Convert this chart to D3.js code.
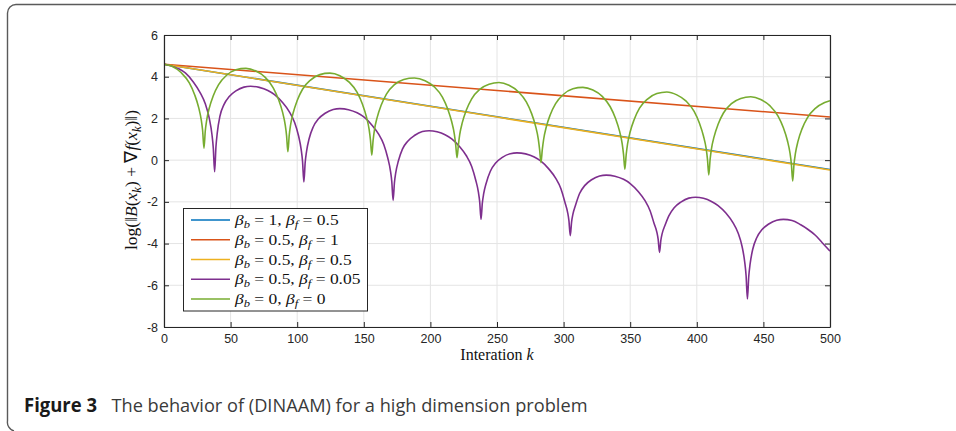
<!DOCTYPE html>
<html>
<head>
<meta charset="utf-8">
<script src="https://cdn.jsdelivr.net/npm/d3@7"></script>
<style>
  html, body { margin: 0; padding: 0; background: #fff; }
  svg { display: block; }
</style>
</head>
<body>
<svg id="chart" width="956" height="431"></svg>
<script>
// ---------------- data ----------------
const xTicks = [0, 50, 100, 150, 200, 250, 300, 350, 400, 450, 500];
const yTicks = [-8, -6, -4, -2, 0, 2, 4, 6];
const betaB = ["1", "0.5", "0.5", "0.5", "0"];
const betaF = ["0.5", "1", "0.5", "0.05", "0"];

// beta_b = 1, beta_f = 0.5
const blueVals = [[0, 4.6], [250, 2.08], [500, -0.45]];
// beta_b = 0.5, beta_f = 1
const redVals = [[0, 4.6], [250, 3.34], [500, 2.07]];
// beta_b = 0.5, beta_f = 0.5
const yellowVals = [[0, 4.6], [250, 2.065], [500, -0.47]];
// beta_b = 0.5, beta_f = 0.05
const purpleVals = [
  [0,4.60],[11,4.38],[16,4.18],[22,3.75],[27,3.25],[31,2.70],[34,2.00],[36,1.23],[37,0.59],[38,-0.56],
  [39,0.64],[40,1.31],[42,2.11],[45,2.66],[49,3.05],[54,3.32],[60,3.50],[65,3.54],[71.5,3.49],[78,3.34],[83,3.14],[89,2.76],[94,2.33],[98,1.82],[101,1.17],[103,0.50],[104,-0.05],[105,-1.05],
  [106,-0.11],[107,0.41],[109,1.04],[112,1.59],[116,1.98],[121,2.25],[127,2.43],[132,2.47],[138.5,2.42],[145,2.27],[150,2.07],[156,1.69],[161,1.26],[165,0.75],[168,0.10],[170,-0.51],[171,-1.02],[172,-1.93],
  [173,-1.08],[174,-0.60],[176,-0.03],[179,0.53],[183,0.91],[188,1.18],[194,1.37],[199,1.41],[205,1.36],[211,1.22],[216,1.02],[222,0.64],[227,0.21],[231,-0.30],[234,-0.95],[236,-1.52],[237,-1.99],[238,-2.84],
  [239,-2.05],[240,-1.61],[242,-1.08],[245,-0.53],[249,-0.14],[254,0.13],[260,0.31],[265,0.35],[271.5,0.30],[278,0.15],[283,-0.05],[289,-0.43],[294,-0.86],[298,-1.37],[301,-2.02],[303,-2.50],[304,-2.90],[305,-3.62],
  [306,-2.96],[307,-2.59],[309,-2.15],[312,-1.60],[316,-1.21],[321,-0.94],[327,-0.76],[332,-0.72],[338.5,-0.77],[345,-0.92],[350,-1.12],[356,-1.50],[361,-1.93],[365,-2.44],[368,-3.05],[370,-3.45],[371,-3.80],[372,-4.42],
  [373,-3.85],[374,-3.52],[376,-3.15],[379,-2.67],[383,-2.28],[388,-2.01],[394,-1.82],[399,-1.78],[405,-1.83],[411,-1.98],[416,-2.18],[422,-2.55],[427,-2.98],[431,-3.49],[434,-4.14],[436,-4.90],[437,-5.53],[438,-6.66],
  [439,-5.58],[440,-4.99],[442,-4.27],[445,-3.72],[449,-3.33],[454,-3.06],[460,-2.88],[465,-2.84],[471.5,-2.89],[478,-3.10],[483,-3.30],[489,-3.60],[494,-3.95],[500,-4.36]
];
// beta_b = 0, beta_f = 0
const greenVals = [
  [0,4.60],[6,4.50],[13,4.19],[19,3.70],[23,3.14],[26,2.53],[28,1.92],[29,1.42],[30,0.57],
  [31,1.41],[32,1.90],[34,2.50],[37,3.09],[41,3.62],[47,4.07],[54,4.33],[61.5,4.40],[69,4.27],[76,3.97],[82,3.47],[86,2.91],[89,2.30],[91,1.69],[92,1.19],[93,0.40],
  [94,1.18],[95,1.68],[97,2.27],[100,2.86],[104,3.40],[110,3.84],[117,4.10],[124.5,4.17],[132,4.05],[139,3.74],[145,3.25],[149,2.68],[152,2.07],[154,1.47],[155,0.96],[156,0.24],
  [157,0.96],[158,1.45],[160,2.04],[163,2.63],[167,3.17],[173,3.62],[180,3.87],[188,3.94],[196,3.81],[203,3.51],[209,3.02],[213,2.45],[216,1.84],[218,1.24],[219,0.73],[220,0.12],
  [221,0.72],[222,1.22],[224,1.81],[227,2.40],[231,2.94],[237,3.39],[244,3.64],[251.5,3.72],[259,3.59],[266,3.28],[272,2.79],[276,2.23],[279,1.62],[281,1.01],[282,0.50],[283,-0.12],
  [284,0.50],[285,0.99],[287,1.59],[290,2.18],[294,2.71],[300,3.16],[307,3.42],[314.5,3.49],[322,3.36],[329,3.06],[335,2.56],[339,2.00],[342,1.39],[344,0.78],[345,0.28],[346,-0.43],
  [347,0.27],[348,0.77],[350,1.36],[353,1.95],[357,2.49],[363,2.93],[370,3.19],[377.5,3.27],[385,3.13],[392,2.83],[398,2.34],[402,1.77],[405,1.16],[407,0.56],[408,0.05],[409,-0.71],
  [410,0.04],[411,0.54],[413,1.13],[416,1.72],[420,2.26],[426,2.71],[433,2.96],[440.5,3.04],[448,2.91],[455,2.60],[461,2.11],[465,1.55],[468,0.94],[470,0.33],[471,-0.18],[472,-1.00],
  [473,-0.18],[474,0.31],[476,0.91],[479,1.50],[483,2.03],[489,2.48],[496,2.76],[500,2.85]
];

// ---------------- drawing ----------------
const svg = d3.select("#chart");
const plot = { left: 164, right: 830, top: 35, bottom: 327 };
const x = d3.scaleLinear().domain([0, 500]).range([plot.left, plot.right]);
const y = d3.scaleLinear().domain([-8, 6]).range([plot.bottom, plot.top]);

// outer frame (rounded, open at right/bottom)
svg.append("path")
  .attr("d", "M956,4.5 H16 A8.5,8.5 0 0 0 7.5,13 V421 A9,9 0 0 0 14,431")
  .attr("fill", "none").attr("stroke", "#5a5a5a").attr("stroke-width", 1.4);

// grid
const grid = svg.append("g");
grid.selectAll("line.gx").data(xTicks).join("line")
  .attr("x1", d => x(d)).attr("x2", d => x(d))
  .attr("y1", plot.top).attr("y2", plot.bottom)
  .attr("stroke", "#e4e4e4").attr("stroke-width", 1);
grid.selectAll("line.gy").data(yTicks).join("line")
  .attr("y1", d => y(d)).attr("y2", d => y(d))
  .attr("x1", plot.left).attr("x2", plot.right)
  .attr("stroke", "#e4e4e4").attr("stroke-width", 1);

// clip
svg.append("clipPath").attr("id", "clip").append("rect")
  .attr("x", plot.left).attr("y", plot.top)
  .attr("width", plot.right - plot.left).attr("height", plot.bottom - plot.top);

const colors = ["#0072BD", "#D95319", "#EDB120", "#7E2F8E", "#77AC30"];
const allSeries = [blueVals, redVals, yellowVals, purpleVals, greenVals];
const lineStraight = d3.line().x(d => x(d[0])).y(d => y(d[1]));
const lineCurve = d3.line().x(d => x(d[0])).y(d => y(d[1])).curve(d3.curveMonotoneX);

const lines = svg.append("g").attr("clip-path", "url(#clip)");
allSeries.forEach((s, i) => {
  lines.append("path")
    .attr("d", (s.length > 3 ? lineCurve : lineStraight)(s))
    .attr("fill", "none")
    .attr("stroke", colors[i])
    .attr("stroke-width", 1.6)
    .attr("stroke-linejoin", "round");
});

// axes
const fmt = d => String(d);
const axisColor = "#262626";
function styleAxis(g) {
  g.attr("font-size", null).attr("font-family", null);
  g.select(".domain").attr("stroke", axisColor).attr("stroke-width", 1.2);
  g.selectAll(".tick line").attr("stroke", axisColor).attr("stroke-width", 1);
  g.selectAll(".tick text").attr("fill", axisColor)
    .style("font-family", "'Liberation Sans', Arial, sans-serif").style("font-size", "12.5px");
}
svg.append("g").attr("transform", `translate(0,${plot.bottom})`)
  .call(d3.axisBottom(x).tickValues(xTicks).tickFormat(fmt).tickSizeInner(-5).tickSizeOuter(0).tickPadding(7))
  .call(styleAxis);
svg.append("g").attr("transform", `translate(0,${plot.top})`)
  .call(d3.axisTop(x).tickValues(xTicks).tickFormat("").tickSizeInner(-5).tickSizeOuter(0))
  .call(styleAxis);
svg.append("g").attr("transform", `translate(${plot.left},0)`)
  .call(d3.axisLeft(y).tickValues(yTicks).tickFormat(fmt).tickSizeInner(-5).tickSizeOuter(0).tickPadding(6))
  .call(styleAxis);
svg.append("g").attr("transform", `translate(${plot.right},0)`)
  .call(d3.axisRight(y).tickValues(yTicks).tickFormat("").tickSizeInner(-5).tickSizeOuter(0))
  .call(styleAxis);

// math-text helper
const serif = "'Liberation Serif', 'Times New Roman', serif";
function mathText(sel, parts, size) {
  parts.forEach(p => {
    const t = sel.append("tspan").text(p.t);
    if (p.i) t.attr("font-style", "italic");
    if (p.sub) {
      t.attr("font-size", size * 0.72).attr("dy", size * 0.2);
    }
    if (p.back) t.attr("dy", -size * 0.2);
  });
}

// y label
const ylab = svg.append("text")
  .attr("transform", `translate(137,${(plot.top + plot.bottom) / 2 - 1}) rotate(-90)`)
  .attr("text-anchor", "middle")
  .attr("font-family", serif).attr("font-size", 17.5).attr("fill", "#111");
mathText(ylab, [
  { t: "log(‖" }, { t: "B", i: 1 }, { t: "(" }, { t: "x", i: 1 }, { t: "k", i: 1, sub: 1 },
  { t: ")", back: 1 }, { t: " + ∇" }, { t: "f", i: 1 }, { t: "(" }, { t: "x", i: 1 }, { t: "k", i: 1, sub: 1 },
  { t: ")‖)", back: 1 }
], 17.5);

// x label
const xlab = svg.append("text")
  .attr("x", 497).attr("y", 360)
  .attr("text-anchor", "middle")
  .attr("font-family", serif).attr("font-size", 16).attr("fill", "#111");
mathText(xlab, [{ t: "Interation " }, { t: "k", i: 1 }], 16);

// legend
const leg = svg.append("g");
leg.append("rect")
  .attr("x", 183.5).attr("y", 208.5).attr("width", 184).attr("height", 102.5)
  .attr("fill", "#fff").attr("stroke", axisColor).attr("stroke-width", 1);
const rowY = d3.scalePoint().domain(d3.range(betaB.length)).range([220, 299]);
const legFont = 15.5;
const legTexts = [];
betaB.forEach((b, i) => {
  const ry = rowY(i);
  leg.append("line").attr("x1", 191).attr("x2", 230).attr("y1", ry).attr("y2", ry)
    .attr("stroke", colors[i]).attr("stroke-width", 1.6);
  const t = leg.append("text").attr("x", 0).attr("y", 0)
    .attr("font-family", serif).attr("font-size", legFont).attr("fill", "#111")
    .attr("data-ry", ry);
  mathText(t, [
    { t: "β", i: 1 }, { t: "b", i: 1, sub: 1 }, { t: " = " + b + ", ", back: 1 },
    { t: "β", i: 1 }, { t: "f", i: 1, sub: 1 }, { t: " = " + betaF[i], back: 1 }
  ], legFont);
  legTexts.push(t);
});
// widen the serif text horizontally to match the wider math font of the original
const widest = d3.max(legTexts, t => t.node().getBBox().width);
const sx = 127 / widest;
legTexts.forEach(t => {
  t.attr("transform", `translate(235,${+t.attr("data-ry") + 5}) scale(${sx},1)`);
});

// caption
const cap = svg.append("text").attr("y", 412)
  .attr("font-family", "'Open Sans', 'Noto Sans', sans-serif").attr("font-size", 19);
cap.append("tspan").attr("x", 24).text("Figure 3").attr("font-weight", "bold").attr("fill", "#1a1a1a")
  .attr("textLength", 73).attr("lengthAdjust", "spacingAndGlyphs");
cap.append("tspan").attr("x", 111.5).text("The behavior of (DINAAM) for a high dimension problem")
  .attr("fill", "#3a3a3a").attr("font-weight", "normal")
  .attr("textLength", 476).attr("lengthAdjust", "spacingAndGlyphs");
</script>
</body>
</html>
